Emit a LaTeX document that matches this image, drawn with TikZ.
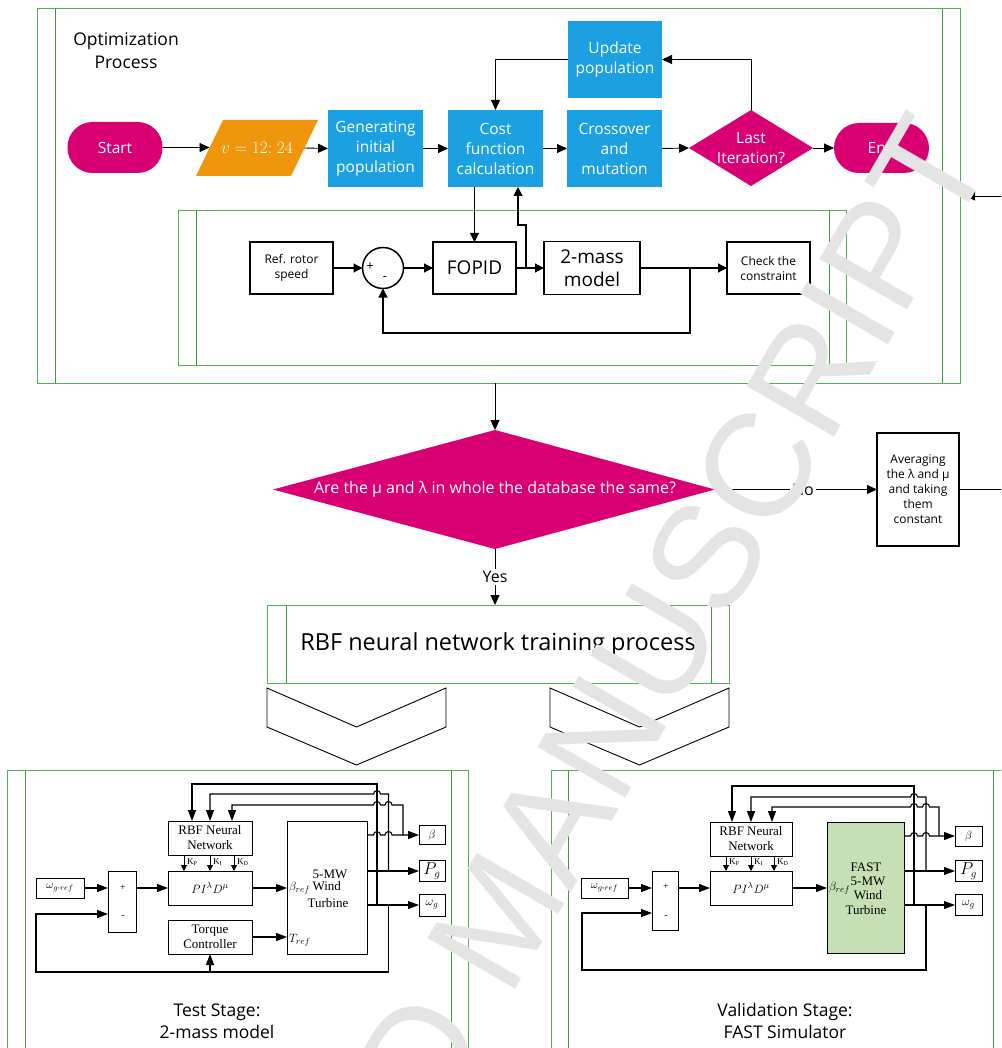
\documentclass[tikz,border=0pt]{standalone}
\usepackage{amsmath}
\usepackage{fontspec}
\setmainfont{Open Sans}
\newfontfamily\serifb{Liberation Serif}
\newfontfamily\wmfont{Liberation Sans}
\usetikzlibrary{arrows.meta,calc}

\definecolor{fmag}{HTML}{D80073}
\definecolor{fcyan}{HTML}{1BA1E2}
\definecolor{famber}{HTML}{F0960C}
\definecolor{fgreen}{HTML}{55AE55}
\definecolor{fgreenin}{HTML}{3D993D}
\definecolor{fastgreen}{HTML}{C5E0B4}
\definecolor{wmgray}{HTML}{E4E4E4}

\newcommand\fsz[2]{\fontsize{#1}{#2}\selectfont}

\tikzset{
  every node/.style={inner sep=0pt, outer sep=0pt},
  arr/.style={-{Triangle[length=10pt,width=9pt]}, line width=0.9pt},
  term/.style={fill=fmag, rounded corners=25pt, minimum width=95pt, minimum height=51pt,
    text=white, font=\fsz{15.5}{19}},
  proc/.style={fill=fcyan, minimum width=95pt, minimum height=77pt, text=white,
    align=center, font=\fsz{15.5}{20}},
  frm/.style={draw=fgreen, line width=1pt},
  frmin/.style={draw=fgreenin, line width=1pt},
  blk/.style={draw, line width=1.8pt, minimum width=83pt, minimum height=52pt, align=center},
  carr/.style={-{Triangle[length=9pt,width=9pt]}, line width=1.2pt},
  sblk/.style={draw, line width=0.9pt, align=center, font=\serifb\fsz{13}{15}},
  stxt/.style={font=\serifb\fsz{13}{13}},
  sarr/.style={-{Triangle[length=11pt,width=8pt]}, line width=1.1pt},
  karr/.style={-{Triangle[length=6pt,width=6pt]}, line width=1pt},
  klab/.style={anchor=west, font=\serifb\fsz{9}{9}},
}

\begin{document}
\begin{tikzpicture}[x=1pt, y=-1pt]
\useasboundingbox (0,0) rectangle (1001,1048);
\fill[white] (0,0) rectangle (1001,1048);
\begin{scope}
\clip (0,0) rectangle (1001,1048);

% ---------------- optimization process ----------------
\draw[frm] (37,9) rectangle (960,383);
\draw[frmin] (55,9) -- (55,383) (942,9) -- (942,383);
\node[align=center, font=\fsz{17.5}{23}] (optt) at (126,50.5) {Optimization\\Process};

\node[term] (start) at (115,147.5) {Start};
\fill[famber] (196,176) -- (223,120) -- (318,120) -- (291,176) -- cycle;
\node[minimum width=95pt, minimum height=56pt, text=white, font=\fsz{16}{19}] (inp) at (257,148) {$v = 12{:}\;24$};
\node[proc] (gen) at (375.5,148.5) {Generating\\initial\\population};
\node[proc] (cost) at (495.5,148.5) {Cost\\function\\calculation};
\node[proc] (cross) at (614.5,148.5) {Crossover\\and\\mutation};
\node[proc, minimum width=94pt] (upd) at (615,59.5) {Update\\population};
\fill[fmag] (689,148) -- (751,110) -- (813,148) -- (751,186) -- cycle;
\node[minimum width=124pt, minimum height=76pt, text=white, align=center, font=\fsz{15.5}{20}] (last) at (751,148) {Last\\Iteration?};
\node[term, minimum height=50pt] (end) at (881.5,148) {End};

\draw[arr] (start.east) -- (start.east -| inp.west);
\draw[arr] (inp.east) -- (gen.west);
\draw[arr] (gen.east) -- (cost.west);
\draw[arr] (cost.east) -- (cross.west);
\draw[arr] (cross.east) -- (last.west);
\draw[arr] (last.east) -- (end.west);
\draw[arr] (last.north) |- (upd.east);
\draw[arr] (upd.west) -| (cost.north);

% fitness evaluation loop
\draw[frm] (178,211) rectangle (846,365);
\draw[frmin] (196,211) -- (196,365) (829,211) -- (829,365);
\node[blk, font=\fsz{12}{15}] (ref) at (291.5,268) {Ref. rotor\\speed};
\node[draw, circle, line width=1.5pt, minimum size=41pt] (sum) at (383,268) {};
\node[font=\fsz{13}{13}] (plus) at (370,267) {+};
\node[font=\fsz{13}{13}] (minus) at (385,279) {-};
\node[blk, font=\fsz{19}{22}] (fopid) at (474.5,268) {FOPID};
\node[blk, minimum width=96pt, minimum height=53pt, font=\fsz{19}{23}] (mass) at (592,268) {2-mass\\model};
\node[blk, font=\fsz{12}{15}] (check) at (768.5,268) {Check the\\constraint};

\draw[carr] (ref) -- (sum);
\draw[carr] (sum) -- (fopid);
\draw[carr] (fopid) -- (mass);
\draw[carr] (mass) -- (check);
\coordinate (br) at (690,268);
\coordinate (brb) at (690,333);
\draw[carr] (br) -- (brb) -| (sum.south);
\draw[carr] (cost.south -| fopid.north) -- (fopid.north);
\coordinate (j1) at (526,268);
\coordinate (j2) at (518,225);
\draw[carr] (j1) |- (j2) -- (j2 |- cost.south);

% ---------------- decision ----------------
\coordinate (ofb) at (495,383);
\fill[fmag] (273,489.5) -- (495,430) -- (715,489.5) -- (495,549) -- cycle;
\node[minimum width=442pt, minimum height=119pt, text=white, font=\fsz{16}{18}] (dec) at (495,489.5) {Are the μ and λ in whole the database the same?};
\draw[arr] (ofb) -- (dec.north);

\node[draw, line width=2pt, minimum width=82pt, minimum height=113pt, align=center, font=\fsz{12}{15}] (avg) at (918,489.5) {Averaging\\the λ and μ\\and taking\\them\\constant};
\draw[arr] (dec.east) -- node[pos=0.54, fill=white, inner sep=2pt, font=\fsz{16}{16}] (no) {No} (avg.west);
\coordinate (topin) at (965,196);
\draw[arr] (avg.east) -| ($(topin)+(50,0)$) -- (topin);

% ---------------- RBF training ----------------
\node[frm, minimum width=462pt, minimum height=78pt, font=\fsz{23.5}{26}] (rbf) at (498,644) {RBF neural network training process};
\draw[frmin] (286,605) -- (286,683) (711,605) -- (711,683);
\draw[arr] (dec.south) -- node[pos=0.5, fill=white, inner sep=2pt, font=\fsz{16}{16}] (yes) {Yes} (dec.south |- rbf.north);

\draw[line width=0.9pt] (267,688) -- (356.5,727) -- (446,688) -- (446,727) -- (356.5,765) -- (267,727) -- cycle;
\draw[line width=0.9pt] (550,688) -- (639.5,727) -- (729,688) -- (729,727) -- (639.5,765) -- (550,727) -- cycle;

% ---------------- test stage ----------------
\draw[frm] (7,770) rectangle (468,1060);
\draw[frmin] (25,770) -- (25,1060) (451,770) -- (451,1060);

\node[sblk, minimum width=48pt, minimum height=20pt, font=\fsz{11}{11}] (wrefL) at (60,888) {$\omega_{g\text{-}ref}$};
\node[sblk, minimum width=28pt, minimum height=61pt] (sumL) at (122,901.5) {};
\node[font=\serifb\fsz{10}{10}] (sumLp) at (123,888) {+};
\node[font=\serifb\fsz{10}{10}] (sumLm) at (123,917) {-};
\node[sblk, minimum width=84pt, minimum height=34pt] (pidL) at (210,888) {$PI^{\lambda}D^{\mu}$};
\node[sblk, minimum width=84pt, minimum height=34pt] (rbfL) at (210,838) {RBF Neural\\Network};
\node[sblk, minimum width=84pt, minimum height=34pt] (torL) at (210,937) {Torque\\Controller};
\node[sblk, minimum width=80pt, minimum height=133pt] (wtL) at (327,887.5) {};
\node[stxt] (wtL1) at (330,874) {5-MW};
\node[stxt, anchor=west] (wtL2) at (289,888) {$\beta_{ref}$\,Wind};
\node[stxt] (wtL3) at (328,903) {Turbine};
\node[stxt, anchor=west] (wtL4) at (289,940) {$T_{ref}$};
\node[sblk, minimum width=26pt, minimum height=19pt] (betaL) at (432,835) {$\beta$};
\node[sblk, minimum width=26pt, minimum height=21pt, font=\fsz{16}{16}] (pgL) at (432,871) {$P_g$};
\node[sblk, minimum width=26pt, minimum height=22pt] (wgL) at (432,905) {$\omega_g$};

\draw[sarr] (wrefL.east) -- (wrefL.east -| sumL.west);
\draw[sarr] (sumL.east |- pidL.west) -- (pidL.west);
\draw[sarr] (pidL.east) -- (pidL.east -| wtL.west);
\draw[sarr] (torL.east) -- (torL.east -| wtL.west);
\draw[karr] ([xshift=-26pt]rbfL.south) -- ([xshift=-26pt]pidL.north);
\draw[karr] (rbfL.south) -- (pidL.north);
\draw[karr] ([xshift=24pt]rbfL.south) -- ([xshift=24pt]pidL.north);
\node[klab] (kpL) at (187,862) {K\textsubscript{P}};
\node[klab] (kiL) at (213,862) {K\textsubscript{I}};
\node[klab] (kdL) at (237,862) {K\textsubscript{D}};

\draw[sarr] (wtL.east |- betaL.west) -- (373.5,835) arc[start angle=180, end angle=0, radius=3.5pt]
  -- (385,835) arc[start angle=180, end angle=0, radius=3.5pt] -- (betaL.west);
\draw[sarr] (wtL.east |- pgL.west) -- (pgL.west);
\draw[sarr] (wtL.east |- wgL.west) -- (wgL.west);
\coordinate (hL1) at (0,784);
\coordinate (hL2) at (0,794);
\coordinate (hL3) at (0,805);
\draw[sarr] (377,905) -- (377,784) -- ([xshift=-18pt]rbfL.north |- hL1) -- ([xshift=-18pt]rbfL.north);
\draw[sarr] (388.5,871) -- (388.5,794) -- (380.5,794) arc[start angle=0, end angle=180, radius=3.5pt]
  -- (rbfL.north |- hL2) -- (rbfL.north);
\draw[sarr] (403,835) -- (403,805) -- (392,805) arc[start angle=0, end angle=180, radius=3.5pt]
  -- (380.5,805) arc[start angle=0, end angle=180, radius=3.5pt]
  -- ([xshift=22pt]rbfL.north |- hL3) -- ([xshift=22pt]rbfL.north);
\coordinate (fbL) at (0,914);
\draw[sarr] (388.5,905) -- (388.5,972) -- (36,972) -- (36,914) -- (sumL.west |- fbL);
\coordinate (fbL2) at (0,972);
\draw[sarr] (torL.south |- fbL2) -- (torL.south);

\node[align=center, font=\fsz{17.5}{22}] (tst) at (217,1021) {Test Stage:\\2-mass model};

% ---------------- validation stage ----------------
\draw[frm] (551,770) rectangle (1012,1060);
\draw[frmin] (568,770) -- (568,1060) (993,770) -- (993,1060);

\node[sblk, minimum width=47pt, minimum height=20pt, font=\fsz{11}{11}] (wrefR) at (604.5,888) {$\omega_{g\text{-}ref}$};
\node[sblk, minimum width=26pt, minimum height=59pt] (sumR) at (665,900.5) {};
\node[font=\serifb\fsz{10}{10}] (sumRp) at (666,887) {+};
\node[font=\serifb\fsz{10}{10}] (sumRm) at (666,917) {-};
\node[sblk, minimum width=82pt, minimum height=34pt] (pidR) at (751,888) {$PI^{\lambda}D^{\mu}$};
\node[sblk, minimum width=82pt, minimum height=34pt] (rbfR) at (751,839) {RBF Neural\\Network};
\node[sblk, fill=fastgreen, minimum width=77pt, minimum height=131pt] (fastR) at (865.5,887.5) {};
\node[stxt] (fastR1) at (866,867) {FAST};
\node[stxt] (fastR2) at (868,881) {5-MW};
\node[stxt] (fastR3) at (868,895) {Wind};
\node[stxt] (fastR4) at (866,910) {Turbine};
\node[stxt, anchor=west] (fastR5) at (829,888) {$\beta_{ref}$};
\node[sblk, minimum width=27pt, minimum height=20pt] (betaR) at (968.5,836) {$\beta$};
\node[sblk, minimum width=27pt, minimum height=21pt, font=\fsz{16}{16}] (pgR) at (968.5,871) {$P_g$};
\node[sblk, minimum width=27pt, minimum height=21pt] (wgR) at (968.5,905) {$\omega_g$};

\draw[sarr] (wrefR.east) -- (wrefR.east -| sumR.west);
\draw[sarr] (sumR.east |- pidR.west) -- (pidR.west);
\draw[sarr] (pidR.east) -- (pidR.east -| fastR.west);
\draw[karr] ([xshift=-25pt]rbfR.south) -- ([xshift=-25pt]pidR.north);
\draw[karr] (rbfR.south) -- (pidR.north);
\draw[karr] ([xshift=23pt]rbfR.south) -- ([xshift=23pt]pidR.north);
\node[klab] (kpR) at (729,862) {K\textsubscript{P}};
\node[klab] (kiR) at (754,862) {K\textsubscript{I}};
\node[klab] (kdR) at (777,862) {K\textsubscript{D}};

\draw[sarr] (fastR.east |- betaR.west) -- (910.5,836) arc[start angle=180, end angle=0, radius=3.5pt]
  -- (922.5,836) arc[start angle=180, end angle=0, radius=3.5pt] -- (betaR.west);
\draw[sarr] (fastR.east |- pgR.west) -- (pgR.west);
\draw[sarr] (fastR.east |- wgR.west) -- (wgR.west);
\coordinate (hR1) at (0,786);
\coordinate (hR2) at (0,797);
\coordinate (hR3) at (0,807);
\draw[sarr] (914,905) -- (914,786) -- ([xshift=-19pt]rbfR.north |- hR1) -- ([xshift=-19pt]rbfR.north);
\draw[sarr] (926,871) -- (926,797) -- (917.5,797) arc[start angle=0, end angle=180, radius=3.5pt]
  -- (rbfR.north |- hR2) -- (rbfR.north);
\draw[sarr] (939,836) -- (939,807) -- (929.5,807) arc[start angle=0, end angle=180, radius=3.5pt]
  -- (917.5,807) arc[start angle=0, end angle=180, radius=3.5pt]
  -- ([xshift=21pt]rbfR.north |- hR3) -- ([xshift=21pt]rbfR.north);
\coordinate (fbR) at (0,913);
\draw[sarr] (926,905) -- (926,970) -- (582,970) -- (582,913) -- (sumR.west |- fbR);

\node[align=center, font=\fsz{17.5}{22}] (val) at (785,1021) {Validation Stage:\\FAST Simulator};

% ---------------- watermark ----------------
\node[rotate=60, anchor=base west, text=wmgray, font=\wmfont\fsz{147}{147}] (wm) at (89,1728) {ACCEPTED MANUSCRIPT};
\end{scope}
\end{tikzpicture}
\end{document}
